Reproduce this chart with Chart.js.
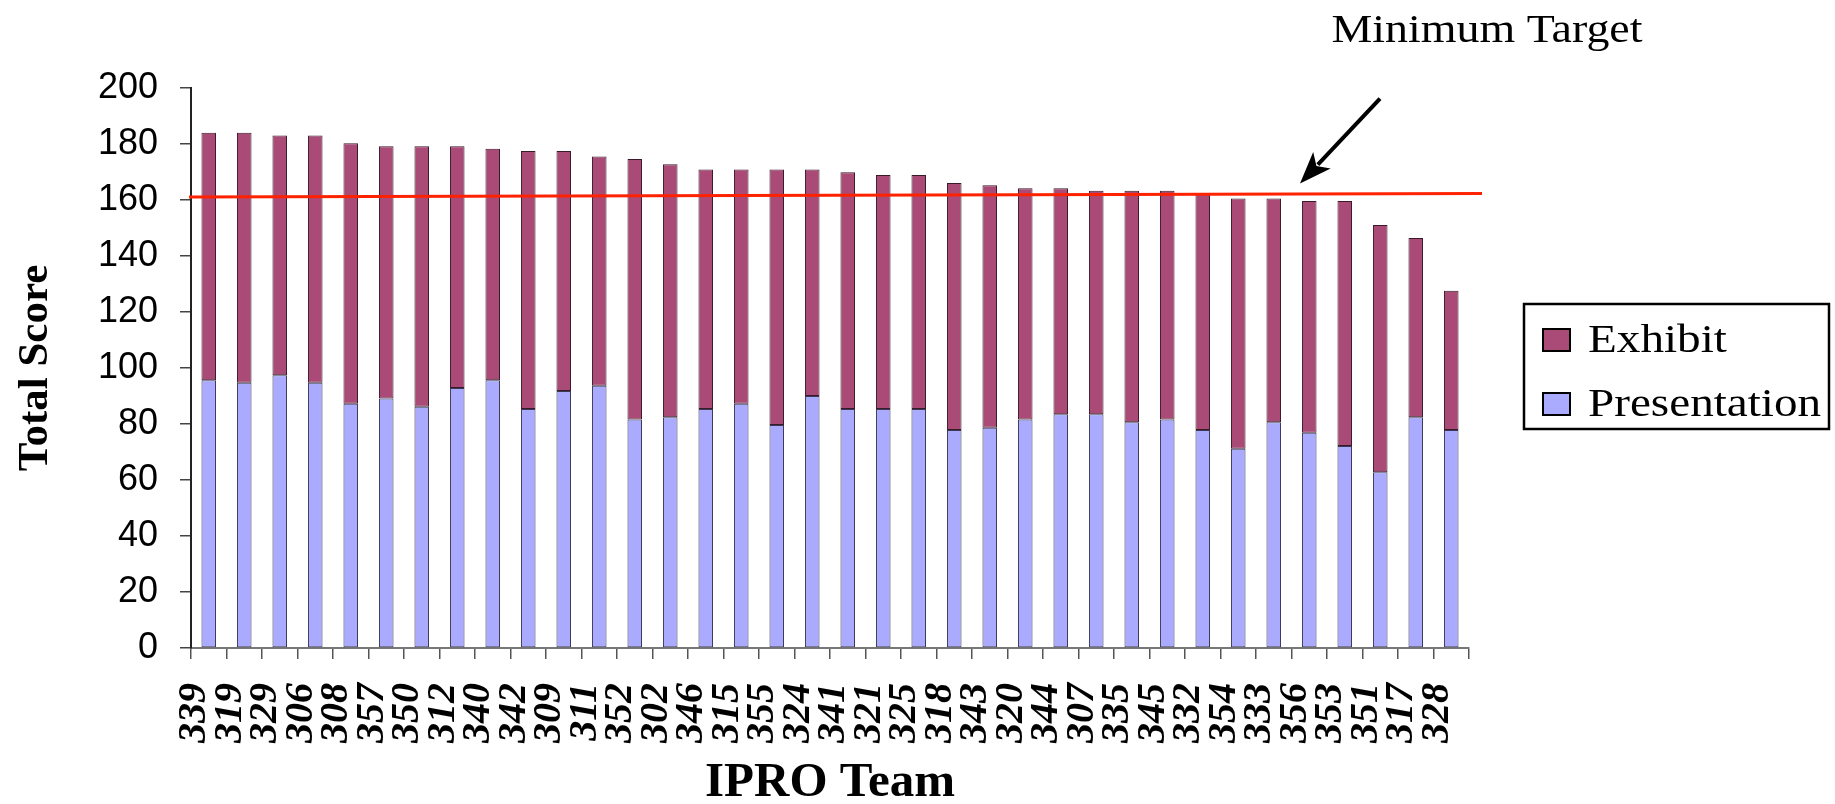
<!DOCTYPE html>
<html>
<head>
<meta charset="utf-8">
<script src="https://cdn.jsdelivr.net/npm/chart.js@4"></script>
<style>
  html, body { margin: 0; padding: 0; background: #ffffff; }
  #wrap { width: 1835px; height: 804px; }
</style>
</head>
<body>
<div id="wrap"><canvas id="c" width="1835" height="804"></canvas></div>
<script>
const teams = ['339','319','329','306','308','357','350','312','340','342','309','311','352','302','346','315','355','324','341','321','325','318','343','320','344','307','335','345','332','354','333','356','353','351','317','328'];
const presentation = [95.6,94.7,97.4,94.7,87.2,89.1,86.2,92.9,95.6,85.4,91.8,93.7,81.6,82.4,85.4,87.2,79.6,90.0,85.4,85.4,85.4,77.9,78.7,81.6,83.5,83.5,80.6,81.6,77.9,71.2,80.6,76.9,72.1,62.8,82.4,77.9];
const exhibit = [88.4,89.3,85.6,88.3,93.1,90.1,93.0,86.3,82.7,92.1,85.7,81.8,93.0,90.4,85.5,83.7,91.3,80.9,84.5,83.5,83.5,88.2,86.6,82.6,80.7,79.8,82.7,81.7,84.4,89.3,79.9,82.7,87.5,88.3,64.0,49.7];
const yTicks = [0,20,40,60,80,100,120,140,160,180,200];
const targetStart = 161.1;
const targetEnd = 162.3;
const targetLabel = 'Minimum Target';
const xTitle = 'IPRO Team';
const yTitle = 'Total Score';

const exhibitColor = '#A94A77';
const presentationColor = '#AAAAFF';

const annotations = {
  id: 'annotations',
  afterDatasetsDraw(chart) {
    const {ctx, chartArea, scales} = chart;
    const y = scales.y;
    ctx.save();
    // target line
    const x0 = chartArea.left - 2, x1 = chartArea.right + 13;
    ctx.strokeStyle = '#FF2200';
    ctx.lineWidth = 3;
    ctx.beginPath();
    ctx.moveTo(x0, y.getPixelForValue(targetStart));
    ctx.lineTo(x1, y.getPixelForValue(targetEnd));
    ctx.stroke();

    // arrow
    const tipX = chartArea.right - 169;
    const tipY = y.getPixelForValue(targetEnd) - 10;
    const tailX = tipX + 80, tailY = tipY - 85;
    const ang = Math.atan2(tipY - tailY, tipX - tailX);
    const headLen = 32, headW = 12;
    const baseX = tipX - headLen * Math.cos(ang), baseY = tipY - headLen * Math.sin(ang);
    ctx.strokeStyle = '#000';
    ctx.fillStyle = '#000';
    ctx.lineWidth = 4;
    ctx.beginPath();
    ctx.moveTo(tailX, tailY);
    ctx.lineTo(baseX + 6 * Math.cos(ang), baseY + 6 * Math.sin(ang));
    ctx.stroke();
    ctx.beginPath();
    ctx.moveTo(tipX, tipY);
    ctx.lineTo(baseX - headW * Math.sin(ang), baseY + headW * Math.cos(ang));
    ctx.lineTo(baseX + 8 * Math.cos(ang), baseY + 8 * Math.sin(ang));
    ctx.lineTo(baseX + headW * Math.sin(ang), baseY - headW * Math.cos(ang));
    ctx.closePath();
    ctx.fill();

    // label
    ctx.font = '41px "Liberation Serif", "Times New Roman", serif';
    ctx.textAlign = 'center';
    ctx.textBaseline = 'alphabetic';
    ctx.translate(chartArea.right + 18, chartArea.top - 46);
    ctx.scale(1.12, 1);
    ctx.fillText(targetLabel, 0, 0);
    ctx.restore();

    // legend box
    ctx.save();
    const lx = chartArea.right + 55, ly = chartArea.top + 216, lw = 305, lh = 125;
    ctx.strokeStyle = '#000';
    ctx.lineWidth = 2.5;
    ctx.strokeRect(lx, ly, lw, lh);
    const items = [
      {label: chart.data.datasets[1].label, color: chart.data.datasets[1].backgroundColor},
      {label: chart.data.datasets[0].label, color: chart.data.datasets[0].backgroundColor}
    ];
    items.forEach((it, i) => {
      const sy = ly + 25 + i * 64;
      ctx.fillStyle = it.color;
      ctx.fillRect(lx + 19, sy, 27, 22);
      ctx.strokeStyle = '#000';
      ctx.lineWidth = 2;
      ctx.strokeRect(lx + 19, sy, 27, 22);
      ctx.save();
      ctx.fillStyle = '#000';
      ctx.font = '41px "Liberation Serif", "Times New Roman", serif';
      ctx.textAlign = 'left';
      ctx.textBaseline = 'alphabetic';
      ctx.translate(lx + 64, sy + 23);
      ctx.scale(1.15, 1);
      ctx.fillText(it.label, 0, 0);
      ctx.restore();
    });
    ctx.restore();
  }
};

new Chart(document.getElementById('c'), {
  type: 'bar',
  data: {
    labels: teams,
    datasets: [
      {
        label: 'Presentation',
        data: presentation,
        backgroundColor: presentationColor,
        borderColor: '#3a3a55',
        borderWidth: 1,
        borderSkipped: false,
        categoryPercentage: 1.0,
        barPercentage: 0.41
      },
      {
        label: 'Exhibit',
        data: exhibit,
        backgroundColor: exhibitColor,
        borderColor: '#3a1a2a',
        borderWidth: 1,
        borderSkipped: false,
        categoryPercentage: 1.0,
        barPercentage: 0.41
      }
    ]
  },
  options: {
    responsive: false,
    animation: false,
    events: [],
    layout: { padding: { left: 0, right: 366, top: 88, bottom: 0 } },
    plugins: {
      legend: { display: false },
      tooltip: { enabled: false }
    },
    scales: {
      x: {
        stacked: true,
        border: { display: true, color: '#777777', width: 2 },
        grid: { display: true, drawOnChartArea: false, drawTicks: true, tickLength: 11, color: '#555555', lineWidth: 1.5, offset: true },
        ticks: {
          autoSkip: false,
          minRotation: 90,
          maxRotation: 90,
          padding: 24,
          labelOffset: -14,
          color: '#000',
          font: { family: '"Liberation Serif", "Times New Roman", serif', size: 40, weight: 'bold', style: 'italic' }
        },
        title: {
          display: true,
          text: xTitle,
          color: '#000',
          padding: { top: 0, bottom: 0 },
          font: { family: '"Liberation Serif", "Times New Roman", serif', size: 49, weight: 'bold', lineHeight: '42px' }
        },
        afterFit(scale) { scale.height = 156; }
      },
      y: {
        stacked: true,
        min: 0,
        max: 200,
        afterBuildTicks(scale) { scale.ticks = yTicks.map(v => ({ value: v })); },
        border: { display: true, color: '#222222', width: 2 },
        grid: { display: true, drawOnChartArea: false, drawTicks: true, tickLength: 11, color: '#444444', lineWidth: 1.5 },
        ticks: {
          padding: 22,
          color: '#000',
          font: { family: '"Liberation Sans", Arial, sans-serif', size: 36 }
        },
        title: {
          display: true,
          text: yTitle,
          color: '#000',
          padding: { top: 16, bottom: 0 },
          font: { family: '"Liberation Serif", "Times New Roman", serif', size: 43, weight: 'bold', lineHeight: '40px' }
        },
        afterFit(scale) { scale.width = 191; }
      }
    }
  },
  plugins: [annotations]
});
</script>
</body>
</html>
